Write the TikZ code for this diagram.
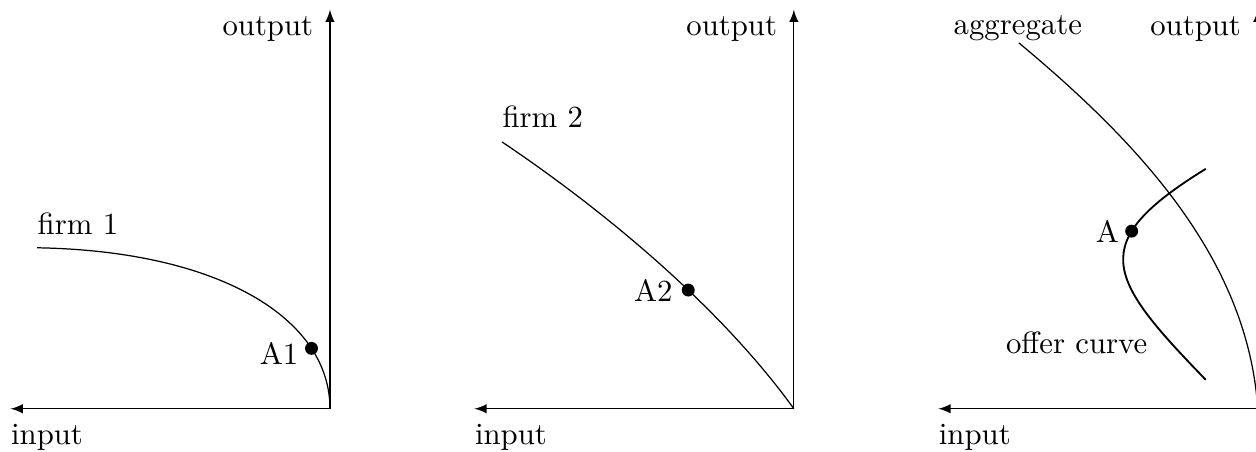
\documentclass[tikz,border=0pt]{standalone}
\usetikzlibrary{positioning}
\begin{document}
\begin{tikzpicture}[
    axis/.style={-latex},
    offer/.style={semithick},
    dot/.style={circle, fill, inner sep=0pt, minimum size=4.2pt},
    lbl/.style={inner sep=0pt},
  ]
    \useasboundingbox (-3.77,-0.49) rectangle (10.58,4.67);

    % the three pairs of axes
    \foreach \i/\x in {1/0, 2/5.3, 3/10.6} {
      \coordinate (o\i)   at (\x,0);
      \coordinate (in\i)  at (\x-3.65,0);
      \coordinate (out\i) at (\x,4.56);
      \draw[axis] (o\i) -- (in\i);
      \draw[axis] (o\i) -- (out\i);
      \node[lbl, anchor=base west] (inlbl\i)  at (\x-3.65,-0.41) {input};
      \node[lbl, anchor=base east] (outlbl\i) at (\x-0.185,4.27) {output};
    }

    % firm 1
    \coordinate (s1) at (-3.346,1.839);
    \draw (s1) .. controls (-1.256,1.804) and (0,1.028) .. (o1)
      node[dot, pos=0.76] (a1) {};
    \node[lbl, anchor=base west] (firm1) at (-3.346,1.987) {firm 1};
    \node[lbl, left=1.8pt of a1, yshift=-1.8pt] (a1lbl) {A1};

    % firm 2
    \begin{scope}[xshift=5.3cm]
      \coordinate (s2) at (-3.335,3.049);
      \draw (s2) .. controls (-2.078,2.204) and (-0.799,1.108) .. (o2)
        node[dot, pos=0.585] (a2) {};
      \node[lbl, anchor=base west] (firm2) at (-3.335,3.209) {firm 2};
      \node[lbl, left=2.6pt of a2] (a2lbl) {A2};
    \end{scope}

    % aggregate and offer curve
    \begin{scope}[xshift=10.6cm]
      \coordinate (s3) at (-2.729,4.180);
      \draw (s3) .. controls (-1.359,3.038) and (-0.114,1.713) .. (o3);
      \node[lbl, anchor=base] (agg) at (-2.741,4.271) {aggregate};

      \coordinate (oc1) at (-0.594,2.741);
      \coordinate (oc2) at (-0.594,0.331);
      \draw[offer] (oc1) .. controls (-1.964,1.896) and (-1.736,1.507) .. (oc2)
        node[dot, pos=0.32] (a) {};
      \node[lbl, left=1.5pt of a] (albl) {A};
      \node[lbl, anchor=base east] (offerlbl) at (-1.256,0.628) {offer curve};
    \end{scope}
  \end{tikzpicture}
\end{document}
